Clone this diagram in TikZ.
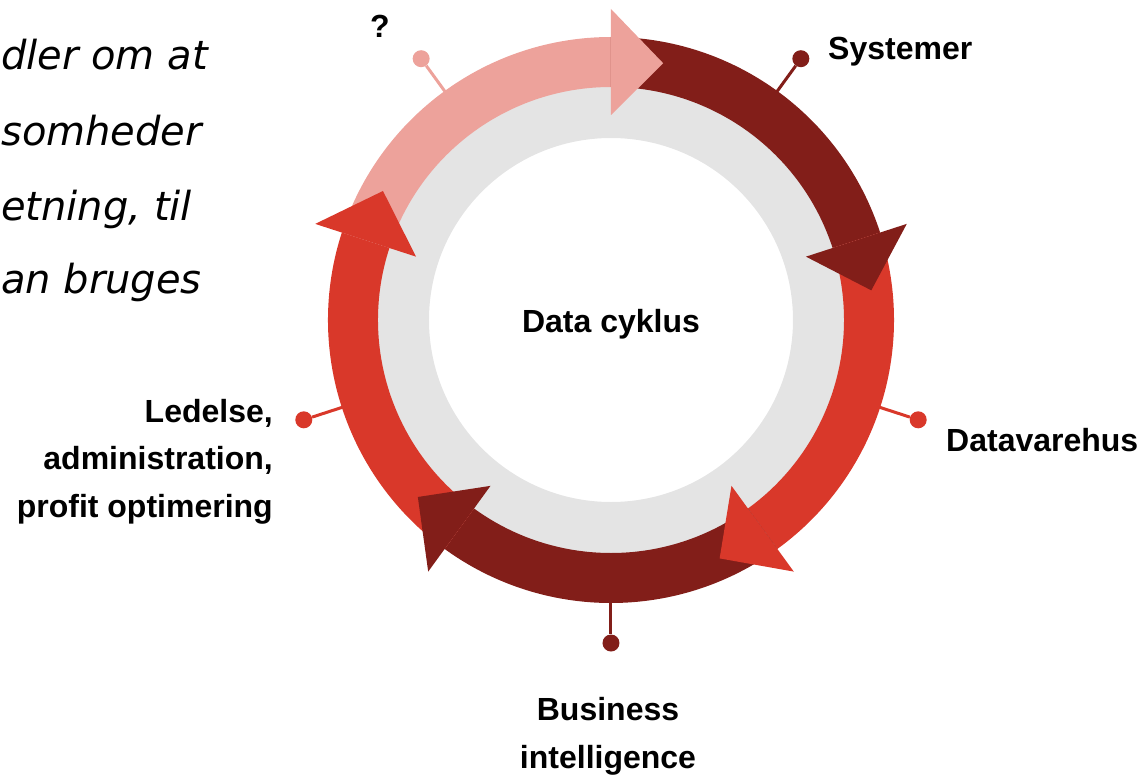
\documentclass[tikz,border=0pt]{standalone}
\usepackage{fontspec}
\setmainfont{Liberation Sans}
\newfontfamily\slantfont{DejaVu Sans}
\usetikzlibrary{positioning}

\definecolor{cyclepink}{HTML}{EDA29B}
\definecolor{cycledark}{HTML}{821E19}
\definecolor{cyclered}{HTML}{D9382A}
\definecolor{cyclegray}{HTML}{E4E4E4}

\begin{document}
\begin{tikzpicture}[x=1pt,y=1pt,
    cyclelabel/.style={font=\fontsize{32}{47.5}\selectfont\bfseries,inner sep=0pt},
    slanttext/.style={font=\slantfont\itshape\fontsize{40}{75}\selectfont,inner sep=0pt,anchor=base west},
    pindot/.style={circle,fill=#1,minimum size=17pt,inner sep=0pt},
    pinline/.style={draw=#1,line width=3pt}]
  \useasboundingbox (-611,-457) rectangle (535,320);

  % text cut at the left edge
  \foreach \y/\t in {250/dler om at,175/somheder,100/{etning, til},27/an bruges}
    \node[slanttext] at (-610,\y) {\t};

  % gray ring
  \fill[cyclegray,even odd rule] (0,0) circle[radius=240pt] (0,0) circle[radius=182pt];

  % arrow bodies, then the heads on top
  \foreach \b/\c in {90/cyclepink,18/cycledark,-54/cyclered,-126/cycledark,-198/cyclered}
    \fill[\c] (\b+72:283pt) arc[start angle=\b+72,end angle=\b,radius=283pt]
      -- (\b:233pt) arc[start angle=\b,end angle=\b+72,radius=233pt] -- cycle;
  \foreach \b/\c in {90/cyclepink,18/cycledark,-54/cyclered,-126/cycledark,-198/cyclered}
    \fill[\c] (\b:205pt) -- (\b:311pt) -- (\b-11.5:262pt) -- cycle;

  % pins
  \foreach \a/\c/\n in {126/cyclepink/q,54/cycledark/sys,-18/cyclered/dvh,-90/cycledark/bi,198/cyclered/led} {
    \coordinate (ring\n) at (\a:281pt);
    \node[pindot=\c] (dot\n) at (\a:323pt) {};
    \draw[pinline=\c] (ring\n) -- (dot\n);
  }

  \node[cyclelabel,anchor=base] (center) at (0,-12) {Data cyklus};
  \node[cyclelabel,anchor=base] (lblq) at (-231,282) {?};
  \node[cyclelabel,anchor=base west] (lblsys) at (217,260) {Systemer};
  \node[cyclelabel,anchor=base west] (lbldvh) at (335,-131) {Datavarehus};
  \node[cyclelabel,anchor=base,align=center] (lblbi) at (-3,-448) {Business\\intelligence};
  \node[cyclelabel,anchor=base east,align=right] (lblled) at (-338,-197) {Ledelse,\\administration,\\profit optimering};
\end{tikzpicture}
\end{document}
